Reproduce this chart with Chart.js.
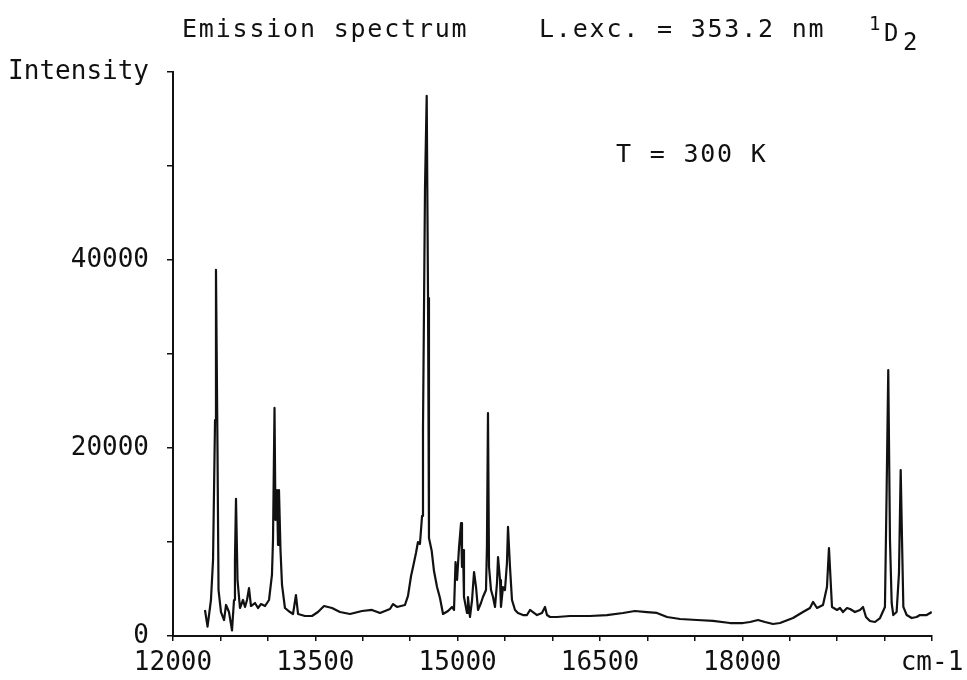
<!DOCTYPE html>
<html>
<head>
<meta charset="utf-8">
<title>Emission spectrum</title>
<script src="https://cdn.jsdelivr.net/npm/chart.js@4.4.1/dist/chart.umd.min.js"></script>
<style>
    body { margin: 0; background: #fff; }
    #spectrum { display: block; }
</style>
</head>
<body>
<canvas id="spectrum" width="967" height="680"></canvas>
<script>
// wavenumber (cm-1) and intensity
const wavenumbers = [
    12337, 12364, 12400, 12422, 12443, 12453, 12469, 12480, 12506, 12538,
    12559, 12590, 12622, 12643, 12653, 12664, 12680, 12706, 12738, 12759,
    12780, 12801, 12822, 12864, 12896, 12928, 12970, 13012, 13043, 13054,
    13070, 13080, 13096, 13107, 13117, 13133, 13149, 13180, 13233, 13265,
    13296, 13318, 13391, 13465, 13528, 13592, 13676, 13760, 13866, 13992,
    14097, 14182, 14287, 14319, 14361, 14445, 14477, 14509, 14530, 14561,
    14582, 14603, 14625, 14635, 14656, 14674, 14688, 14698, 14727, 14751,
    14783, 14814, 14846, 14899, 14941, 14962, 14978, 14994, 15015, 15036,
    15046, 15057, 15067, 15099, 15109, 15130, 15152, 15173, 15194, 15215,
    15246, 15267, 15299, 15309, 15320, 15331, 15352, 15373, 15394, 15415,
    15426, 15447, 15457, 15478, 15499, 15520, 15531, 15552, 15573, 15605,
    15636, 15689, 15731, 15763, 15794, 15837, 15889, 15921, 15942, 15974,
    16047, 16184, 16395, 16574, 16743, 16869, 16996, 17101, 17207, 17344,
    17523, 17692, 17871, 18008, 18082, 18166, 18240, 18324, 18398, 18535,
    18640, 18714, 18746, 18788, 18851, 18893, 18914, 18935, 18946, 18999,
    19030, 19062, 19104, 19136, 19188, 19241, 19273, 19304, 19346, 19399,
    19452, 19504, 19522, 19539, 19557, 19575, 19592, 19627, 19652, 19670,
    19684, 19698, 19733, 19786, 19838, 19873, 19944, 19997
]
const intensities = [
    2770, 1000, 3830, 8090, 22980, 38940, 19790, 4890, 2550, 1700,
    3300, 2550, 600, 3830, 8090, 14580, 5960, 2980, 3830, 3090,
    3830, 5100, 3190, 3510, 2980, 3400, 3190, 3830, 6490, 10210,
    24260, 12340, 15530, 9680, 15530, 9150, 5430, 2980, 2550, 2340,
    4360, 2340, 2130, 2130, 2550, 3190, 2980, 2550, 2340, 2660,
    2770, 2450, 2870, 3400, 3090, 3300, 4260, 6380, 7340, 8830,
    10000, 9790, 12770, 22020, 47550, 57450, 35960, 10430, 9040, 6910,
    5210, 4040, 2340, 2660, 3090, 2770, 7870, 5960, 9470, 12020,
    7340, 9150, 4150, 2450, 4150, 2020, 3830, 6810, 5210, 2770,
    3510, 4150, 4890, 9470, 23720, 7340, 4890, 4150, 3090, 5640,
    8400, 5960, 3090, 5210, 4890, 7770, 11600, 7340, 3830, 2770,
    2450, 2230, 2230, 2770, 2550, 2230, 2450, 3090, 2230, 2020,
    2020, 2130, 2130, 2230, 2450, 2660, 2550, 2450, 2020, 1810,
    1700, 1600, 1380, 1380, 1490, 1700, 1490, 1280, 1380, 1910,
    2550, 2980, 3620, 2980, 3300, 5210, 9360, 5210, 3090, 2770,
    2980, 2550, 2980, 2870, 2550, 2770, 3090, 2020, 1600, 1490,
    1910, 3090, 15530, 28300, 10210, 3510, 2230, 2550, 6700, 17660,
    10210, 3090, 2230, 1910, 2020, 2230, 2230, 2550
]

const xTickValues = [12000, 13500, 15000, 16500, 18000, 20000]
const xTickLabels = ['12000', '13500', '15000', '16500', '18000', 'cm-1']
const yTickValues = [0, 20000, 40000, 60000]
const yTickLabels = ['0', '20000', '40000', 'Intensity']

const plotFont = '"DejaVu Sans Mono", monospace'
const ink = '#111'

const spectrumPoints = wavenumbers.map((w, i) => ({ x: w, y: intensities[i] }))

const tickText = (values, labels) => (value) => {
    const idx = values.indexOf(value)
    return idx >= 0 ? labels[idx] : ''
}

// title, level label and temperature written like the plotter did
const plotTexts = {
    id: 'plotTexts',
    afterDraw(chart) {
        const ctx = chart.ctx
        ctx.save()
        ctx.fillStyle = ink
        ctx.textBaseline = 'alphabetic'
        ctx.textAlign = 'left'
        ctx.font = '25px ' + plotFont
        ctx.letterSpacing = '1.8px'
        ctx.fillText('Emission spectrum', 182, 37)
        ctx.fillText('L.exc. = 353.2 nm', 539, 37)
        ctx.fillText('T = 300 K', 616, 162)
        ctx.letterSpacing = '0px'
        ctx.font = '19px ' + plotFont
        ctx.fillText('1', 869, 30)
        ctx.font = '24px ' + plotFont
        ctx.fillText('D', 884, 41)
        ctx.fillText('2', 903, 50)
        ctx.restore()
    }
}

new Chart(document.getElementById('spectrum'), {
    type: 'line',
    data: {
        datasets: [{
            data: spectrumPoints,
            borderColor: ink,
            borderWidth: 2.2,
            borderJoinStyle: 'round',
            pointRadius: 0,
            tension: 0,
            fill: false
        }]
    },
    options: {
        responsive: false,
        animation: false,
        layout: {
            padding: { top: 72, right: 35, left: 0, bottom: 0 }
        },
        plugins: {
            legend: { display: false },
            tooltip: { enabled: false },
            title: { display: false }
        },
        scales: {
            x: {
                type: 'linear',
                min: 12000,
                max: 20000,
                afterFit: (scale) => {
                    scale.height = 44
                    scale.paddingLeft = 0
                    scale.paddingRight = 35
                },
                border: { display: true, color: ink, width: 2 },
                grid: {
                    drawOnChartArea: false,
                    drawTicks: true,
                    tickLength: 5,
                    tickColor: ink,
                    lineWidth: 1.5
                },
                ticks: {
                    stepSize: 500,
                    autoSkip: false,
                    maxRotation: 0,
                    padding: 7,
                    color: ink,
                    font: { family: plotFont, size: 26 },
                    callback: tickText(xTickValues, xTickLabels)
                }
            },
            y: {
                min: 0,
                max: 60000,
                afterFit: (scale) => { scale.width = 173 },
                border: { display: true, color: ink, width: 2 },
                grid: {
                    drawOnChartArea: false,
                    drawTicks: true,
                    tickLength: 6,
                    tickColor: ink,
                    lineWidth: 1.5
                },
                ticks: {
                    stepSize: 10000,
                    autoSkip: false,
                    padding: 18,
                    color: ink,
                    font: { family: plotFont, size: 26 },
                    callback: tickText(yTickValues, yTickLabels)
                }
            }
        }
    },
    plugins: [plotTexts]
})
</script>
</body>
</html>
